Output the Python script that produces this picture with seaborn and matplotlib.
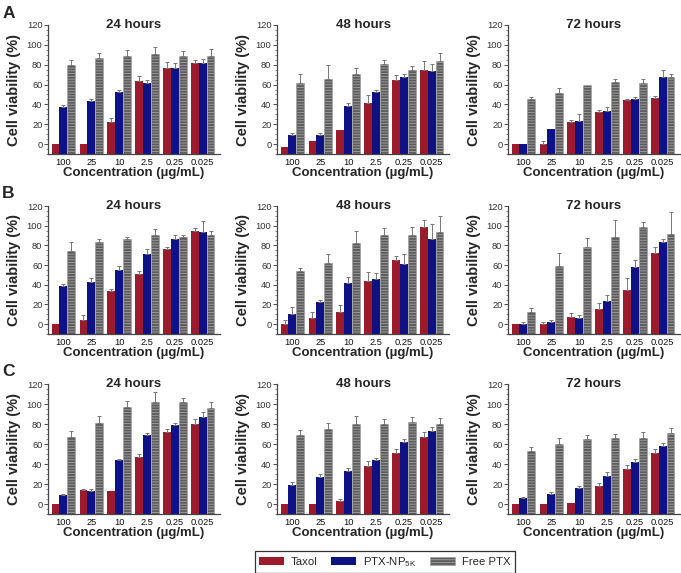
import numpy as np
import pandas as pd
import matplotlib
matplotlib.use("Agg")
import matplotlib.pyplot as plt
import seaborn as sns
from matplotlib.patches import Patch
from matplotlib.ticker import MultipleLocator

# concentrations (x categories) and treatments (hue)
conc = ["100", "25", "10", "2.5", "0.25", "0.025"]
treatments = ["Taxol", "PTX-NP", "Free PTX"]
hours = ["24 hours", "48 hours", "72 hours"]

# cell viability (%) per panel: rows = Taxol, PTX-NP5K, Free PTX
A_24 = [[0, 0, 22, 64, 77, 82], [37, 43, 52, 62, 77, 82], [80, 87, 89, 91, 89, 89]]
A_24_err = [[0, 0, 4, 5, 6, 3], [2, 2, 3, 3, 5, 4], [5, 5, 6, 7, 5, 7]]
A_48 = [[-3, 3, 14, 41, 65, 75], [9, 9, 38, 52, 68, 74], [62, 66, 71, 81, 75, 84]]
A_48_err = [[0, 0, 0, 8, 5, 9], [2, 2, 3, 2, 3, 7], [9, 14, 6, 4, 4, 8]]
A_72 = [[0, 0, 22, 32, 44, 46], [0, 15, 23, 33, 45, 68], [45, 51, 60, 63, 62, 68]]
A_72_err = [[0, 3, 2, 2, 1, 2], [0, 0, 7, 4, 2, 7], [2, 6, 0, 3, 4, 3]]

B_24 = [[0, 4, 34, 51, 76, 95], [39, 43, 55, 71, 86, 94], [74, 83, 86, 91, 89, 91]]
B_24_err = [[0, 5, 2, 3, 2, 3], [2, 4, 4, 5, 5, 11], [9, 3, 3, 6, 2, 4]]
B_48 = [[0, 6, 12, 44, 65, 99], [10, 22, 42, 46, 61, 86], [54, 62, 82, 91, 91, 94]]
B_48_err = [[4, 6, 7, 9, 4, 7], [7, 3, 6, 6, 10, 16], [3, 9, 13, 7, 8, 16]]
B_72 = [[0, 0, 7, 15, 35, 72], [0, 2, 6, 24, 58, 83], [12, 59, 78, 89, 99, 92]]
B_72_err = [[0, 2, 4, 6, 12, 6], [2, 2, 3, 6, 7, 3], [4, 13, 9, 17, 5, 22]]

C_24 = [[0, 14, 13, 47, 72, 80], [9, 13, 44, 69, 79, 87], [67, 81, 97, 102, 102, 96]]
C_24_err = [[0, 1, 0, 3, 3, 5], [1, 2, 1, 2, 2, 5], [6, 7, 6, 10, 4, 6]]
C_48 = [[0, 0, 3, 38, 51, 67], [19, 27, 33, 44, 62, 73], [69, 75, 80, 80, 82, 80]]
C_48_err = [[0, 0, 2, 5, 4, 5], [3, 3, 3, 2, 3, 4], [5, 6, 8, 5, 5, 6]]
C_72 = [[0, 0, 1, 18, 35, 51], [6, 10, 16, 28, 42, 58], [53, 60, 65, 66, 66, 71]]
C_72_err = [[0, 0, 0, 3, 4, 4], [1, 2, 2, 4, 3, 3], [4, 6, 4, 4, 6, 5]]

panels = [
    [(A_24, A_24_err), (A_48, A_48_err), (A_72, A_72_err)],
    [(B_24, B_24_err), (B_48, B_48_err), (B_72, B_72_err)],
    [(C_24, C_24_err), (C_48, C_48_err), (C_72, C_72_err)],
]

colors = {"Taxol": "#9b1b2a", "PTX-NP": "#0f1285", "Free PTX": "#5e5e5e"}
hatch_col = "#a0a0a0"
BASE = -10

sns.set_style("ticks")
plt.rcParams["font.family"] = ["Liberation Sans", "DejaVu Sans"]
plt.rcParams["hatch.linewidth"] = 0.6
plt.rcParams["mathtext.fontset"] = "custom"
plt.rcParams["mathtext.rm"] = "Liberation Sans"

fig = plt.figure(figsize=(6.81, 5.73), dpi=100)

W, H = 681, 573
lefts = [48, 277, 508]
rows = [(25, 154), (206, 334), (384, 514)]
letters = [("A", 13), ("B", 194), ("C", 371)]

for r, (top, bot) in enumerate(rows):
    for c, left in enumerate(lefts):
        ax = fig.add_axes([left / W, 1 - bot / H, 172 / W, (bot - top) / H])
        vals, errs = panels[r][c]
        df = pd.DataFrame({
            "conc": np.tile(conc, 3),
            "treat": np.repeat(treatments, 6),
            "val": np.array(vals).ravel(),
            "err": np.array(errs).ravel(),
        })
        sns.barplot(data=df, x="conc", y="val", hue="treat", order=conc,
                    hue_order=treatments, palette=colors, width=0.84,
                    legend=False, errorbar=None, saturation=1, ax=ax)

        # bars start at the bottom of the axis, not at zero
        bars = sorted(ax.patches, key=lambda p: p.get_x())
        err_lookup = {(t, k): e for t, k, e in zip(df["treat"], df["conc"], df["err"])}
        xs, tops, es = [], [], []
        for i, p in enumerate(bars):
            k = conc[i // 3]
            t = treatments[i % 3]
            topv = p.get_y() + p.get_height()
            p.set_y(BASE)
            p.set_height(topv - BASE)
            if t == "Free PTX":
                p.set_hatch("------")
                p.set_edgecolor(hatch_col)
                p.set_linewidth(0.4)
            else:
                p.set_edgecolor("none")
            e = err_lookup[(t, k)]
            if e > 0:
                xs.append(p.get_x() + p.get_width() / 2)
                tops.append(topv)
                es.append(e)
        if xs:
            ax.errorbar(xs, tops, yerr=[np.zeros(len(es)), es], fmt="none",
                        ecolor="#777777", elinewidth=0.7, capsize=1.2,
                        capthick=0.7)

        ax.set_ylim(BASE, 120)
        ax.set_xlim(-0.55, 5.62)
        ax.set_yticks(range(0, 121, 20))
        ax.yaxis.set_minor_locator(MultipleLocator(5))
        ax.tick_params(axis="y", labelsize=6.7, length=3, width=0.6,
                       pad=1, colors="#333333")
        ax.tick_params(axis="y", which="minor", length=1.5, width=0.5,
                       colors="#555555")
        ax.tick_params(axis="x", labelsize=6.7, length=0, pad=3,
                       colors="#111111")
        for s in ["left", "bottom"]:
            ax.spines[s].set_linewidth(0.9)
            ax.spines[s].set_color("#444444")
        sns.despine(ax=ax)
        ax.set_ylabel("Cell viability (%)", fontsize=10.5, fontweight="bold",
                      labelpad=4)
        ax.set_xlabel("Concentration (\u00b5g/mL)", fontsize=9.5,
                      fontweight="bold", labelpad=0)
        ax.text(0.5, 1.0, hours[c], transform=ax.transAxes, ha="center",
                va="center", fontsize=9.5, fontweight="bold")

for letter, y in letters:
    fig.text(8.5 / W, 1 - y / H, letter, ha="center", va="center",
             fontsize=12.5, fontweight="bold")

handles = [Patch(facecolor=colors["Taxol"], edgecolor="none"),
           Patch(facecolor=colors["PTX-NP"], edgecolor="none"),
           Patch(facecolor=colors["Free PTX"], edgecolor=hatch_col,
                 hatch="------", linewidth=0.4)]
labels = ["Taxol", "PTX-NP$_{\\mathregular{5K}}$", "Free PTX"]
leg = fig.legend(handles, labels, ncol=3, loc="center",
                 bbox_to_anchor=(385 / W, 1 - 562 / H), fontsize=8.2,
                 frameon=True, fancybox=False, handlelength=2.2,
                 handleheight=0.7, columnspacing=1.2, handletextpad=0.6,
                 borderpad=0.35)
leg.get_frame().set_edgecolor("black")
leg.get_frame().set_linewidth(0.9)

fig.savefig("out.png", dpi=100)
